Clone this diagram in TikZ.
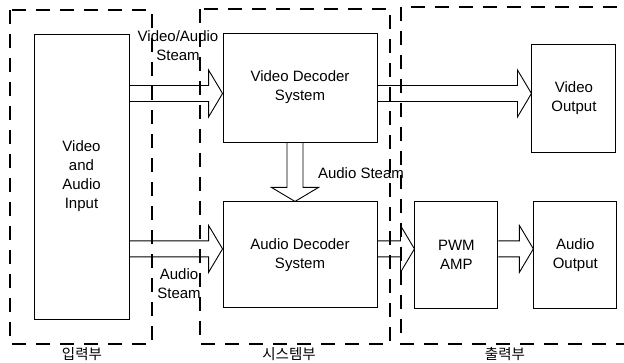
\documentclass[tikz,border=0pt]{standalone}
\usepackage{fontspec}
\setmainfont{Liberation Sans}
\newfontfamily\kofont{Noto Sans CJK KR}
\usepackage{tikz}
\usetikzlibrary{positioning, calc}

% wide hollow arrow from #1 to #2
\newcommand{\widearrow}[2]{%
  \coordinate (wa-s) at (#1);
  \coordinate (wa-e) at (#2);
  \coordinate (wa-n) at ($(wa-e)!14pt!(wa-s)$);
  \draw[fatarrow] ($(wa-s)!8pt!90:(wa-e)$) -- ($(wa-n)!8pt!-90:(wa-s)$)
        -- ($(wa-n)!23.5pt!-90:(wa-s)$) -- (wa-e) -- ($(wa-n)!23.5pt!90:(wa-s)$)
        -- ($(wa-n)!8pt!90:(wa-s)$) -- ($(wa-s)!8pt!-90:(wa-e)$);}

\begin{document}
\begin{tikzpicture}[
        x=1pt, y=1pt,
        box/.style={draw, line width=0.9pt, align=center, inner sep=0pt,
                    font=\fontsize{15}{19}\selectfont},
        region/.style={draw, dashed, line width=1.2pt, dash pattern=on 14pt off 10pt},
        fatarrow/.style={draw, line width=0.9pt, line join=miter},
        steam/.style={align=center, inner sep=0pt, font=\fontsize{15}{19}\selectfont},
        part/.style={inner sep=0pt, font=\kofont\fontsize{14.5}{16}\selectfont}
      ]
        \useasboundingbox (0,0) rectangle (624,363);
        % dashed parts
        \draw[region] (10,353) rectangle (152,19);
        \draw[region] (200,354) rectangle (390,19);
        \draw[region] (401,356) rectangle (640,19);
        \node[part] (inpart) at (82,9) {입력부};
        \node[part] (syspart) at (289,9) {시스템부};
        \node[part] (outpart) at (505,9) {출력부};
        % blocks
        \node[box, minimum width=95pt, minimum height=285pt] (input) at (81.5,186.5)
              {Video\\and\\Audio\\Input};
        \node[box, minimum width=154pt, minimum height=109pt] (vdec) at (300,275.5)
              {Video Decoder\\System};
        \node[box, minimum width=154pt, minimum height=106pt, below=59pt of vdec] (adec)
              {Audio Decoder\\System};
        \node[box, minimum width=84pt, minimum height=108pt, right=154pt of vdec,
              yshift=-10.5pt] (vout) {Video\\Output};
        \node[box, minimum width=83pt, minimum height=107pt, right=37pt of adec] (pwm)
              {PWM\\AMP};
        \node[box, minimum width=83pt, minimum height=107pt, right=35pt of pwm] (aout)
              {Audio\\Output};
        % streams
        \coordinate (toprow) at ([yshift=-6pt]vdec.west);
        \coordinate (botrow) at ([yshift=6pt]adec.west);
        \widearrow{input.east |- toprow}{toprow}
        \widearrow{vdec.east |- toprow}{vout.west |- toprow}
        \widearrow{input.east |- botrow}{botrow}
        \widearrow{adec.east |- botrow}{pwm.west |- botrow}
        \widearrow{pwm.east |- botrow}{aout.west |- botrow}
        \widearrow{[xshift=-5pt]vdec.south}{[xshift=-5pt]adec.north}
        \node[steam] (vastream) at (178,317) {Video/Audio\\Steam};
        \node[steam] (astream) at (361,190) {Audio Steam};
        \node[steam] (instream) at (179,79) {Audio\\Steam};
      \end{tikzpicture}
\end{document}
